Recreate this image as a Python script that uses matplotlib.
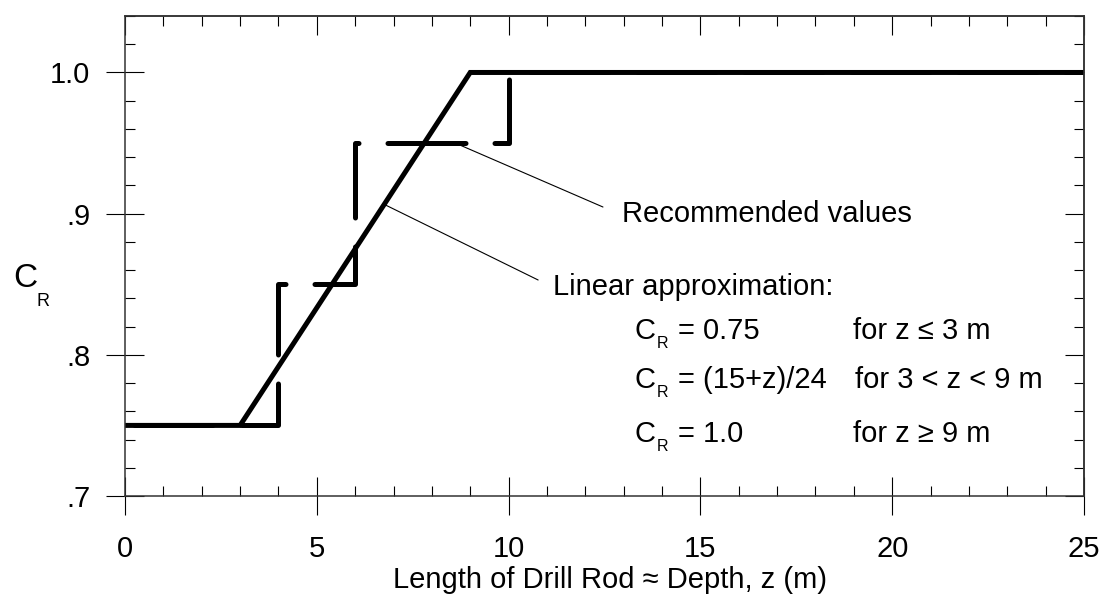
import matplotlib
matplotlib.use("Agg")
import matplotlib.pyplot as plt
from matplotlib.ticker import MultipleLocator, FixedLocator

plt.rcParams['font.family'] = ['Liberation Sans', 'DejaVu Sans']

# ---- data ----
z_linear = [0, 3, 9, 25]
cr_linear = [0.75, 0.75, 1.0, 1.0]
z_recommended = [0, 4, 4, 6, 6, 10, 10, 25]
cr_recommended = [0.75, 0.75, 0.85, 0.85, 0.95, 0.95, 1.0, 1.0]
y_ticks = [0.7, 0.8, 0.9, 1.0]
y_ticklabels = ['.7', '.8', '.9', '1.0']
x_ticks = [0, 5, 10, 15, 20, 25]

W, H = 1102, 603
fig = plt.figure(figsize=(W / 100, H / 100), dpi=100)
L, R, T, B = 125, 1084, 16, 496
ax = fig.add_axes([L / W, 1 - B / H, (R - L) / W, (B - T) / H])

def fx(x):
    return x / W

def fy(y):
    return 1 - y / H

lw = 3.6
ax.plot(z_recommended, cr_recommended, color='black', lw=lw,
        ls=(19.5, (15.6, 5.8)), dash_capstyle='round', solid_capstyle='round')
ax.plot(z_linear, cr_linear, color='black', lw=lw, solid_capstyle='round',
        solid_joinstyle='miter')

ax.set_xlim(0, 25)
ax.set_ylim(0.7, 1.04)
ax.xaxis.set_major_locator(FixedLocator(x_ticks))
ax.xaxis.set_minor_locator(MultipleLocator(1))
ax.yaxis.set_major_locator(FixedLocator(y_ticks))
ax.yaxis.set_minor_locator(MultipleLocator(0.02))
ax.set_yticklabels(y_ticklabels)
ax.set_xticklabels([str(v) for v in x_ticks])

ax.tick_params(which='major', direction='inout', length=28, width=0.8,
               labelsize=21, color='black', top=False, right=False)
ax.tick_params(axis='x', which='major', pad=14)
ax.tick_params(axis='y', which='major', pad=11)
ax.tick_params(which='minor', direction='in', length=7.2, width=0.8,
               color='black', top=False, right=False)

for s in ax.spines.values():
    s.set_linewidth(1.1)
    s.set_color('#333333')

secx = ax.secondary_xaxis('top')
secx.xaxis.set_major_locator(FixedLocator(x_ticks))
secx.xaxis.set_minor_locator(MultipleLocator(1))
secx.tick_params(which='major', direction='in', length=14, width=0.8, labeltop=False)
secx.tick_params(which='minor', direction='in', length=7, width=0.8)
secx.spines['top'].set_linewidth(1.1)
secx.spines['top'].set_color('#333333')

secy = ax.secondary_yaxis('right')
secy.yaxis.set_major_locator(FixedLocator(y_ticks))
secy.yaxis.set_minor_locator(MultipleLocator(0.02))
secy.tick_params(which='major', direction='in', length=14, width=0.8, labelright=False)
secy.tick_params(which='minor', direction='in', length=7, width=0.8)
secy.spines['right'].set_linewidth(1.1)
secy.spines['right'].set_color('#333333')

# x label
ax.set_xlabel('Length of Drill Rod \u2248 Depth, z (m)', fontsize=21, va='baseline')
ax.xaxis.set_label_coords((610 - L) / (R - L), (B - 588) / (B - T))

# y label C_R
fig.text(fx(13), fy(287), 'C', fontsize=24, va='baseline', ha='left')
fig.text(fx(36), fy(306), 'R', fontsize=13, va='baseline', ha='left')

# leader lines
ax.annotate('', xy=(8.73, 0.9486), xytext=(12.46, 0.9047),
            arrowprops=dict(arrowstyle='-', lw=0.8, color='black', shrinkA=0, shrinkB=0))
ax.annotate('', xy=(6.8, 0.906), xytext=(10.77, 0.853),
            arrowprops=dict(arrowstyle='-', lw=0.8, color='black', shrinkA=0, shrinkB=0))

fs = 21
fig.text(fx(622), fy(222), 'Recommended values', fontsize=fs, va='baseline')
fig.text(fx(553), fy(295), 'Linear approximation:', fontsize=fs, va='baseline')

formulas = ['= 0.75', '= (15+z)/24', '= 1.0']
conds = ['for z \u2264 3 m', 'for 3 < z < 9 m', 'for z \u2265 9 m']
baselines = [339, 388, 442]
for_x = [853, 855, 853]
for f, c, b, xf in zip(formulas, conds, baselines, for_x):
    fig.text(fx(635), fy(b), 'C', fontsize=fs, va='baseline')
    fig.text(fx(657), fy(b + 9), 'R', fontsize=11.5, va='baseline')
    fig.text(fx(678), fy(b), f, fontsize=fs, va='baseline')
    fig.text(fx(xf), fy(b), c, fontsize=fs, va='baseline')

fig.savefig('out.png', dpi=100)
